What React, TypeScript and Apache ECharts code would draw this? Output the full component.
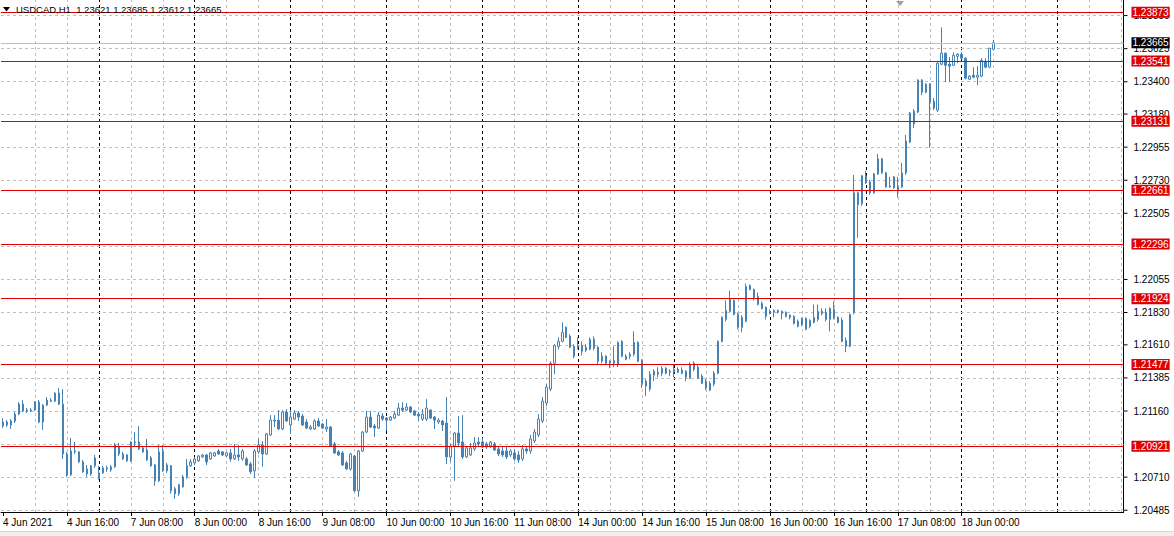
import React, { useEffect, useRef } from 'react';
import * as echarts from 'echarts';

// ---- data (candles: [open, close, low, high]) ----
const symbol = 'USDCAD,H1';
const firstLabel = '4 Jun 2021';
const days = ['4 Jun', '7 Jun', '8 Jun', '9 Jun', '10 Jun', '11 Jun', '14 Jun', '15 Jun', '16 Jun', '17 Jun', '18 Jun', '21 Jun'];

const jun04 = [
  [1.21058, 1.21085, 1.21044, 1.21112], [1.21085, 1.21065, 1.21051, 1.21098], [1.21065, 1.21092, 1.21038, 1.21105],
  [1.21092, 1.21139, 1.21078, 1.21153], [1.21139, 1.21207, 1.21132, 1.21221], [1.21207, 1.2116, 1.21153, 1.21234],
  [1.21166, 1.2116, 1.21146, 1.2118], [1.2116, 1.21166, 1.21153, 1.2118], [1.21166, 1.21221, 1.2116, 1.21227],
  [1.21221, 1.21085, 1.21078, 1.21234], [1.21085, 1.212, 1.21031, 1.21207], [1.212, 1.21234, 1.21193, 1.21255],
  [1.21234, 1.21227, 1.21221, 1.21248], [1.21227, 1.21282, 1.21221, 1.21288], [1.21282, 1.21207, 1.212, 1.21316],
  [1.21207, 1.20868, 1.20834, 1.21309], [1.20868, 1.20726, 1.20712, 1.20882], [1.20726, 1.20888, 1.20719, 1.20977],
  [1.20888, 1.20882, 1.20868, 1.20949], [1.20882, 1.20814, 1.20807, 1.20888], [1.20814, 1.20746, 1.20739, 1.20827],
  [1.20766, 1.20732, 1.20712, 1.20793], [1.20732, 1.20787, 1.20719, 1.20793], [1.20787, 1.20841, 1.20773, 1.20861],
];
const jun07 = [
  [1.20699, 1.20739, 1.20692, 1.20787], [1.20739, 1.20773, 1.20732, 1.20787], [1.20773, 1.20766, 1.20746, 1.20787],
  [1.2076, 1.2078, 1.20746, 1.20793], [1.2078, 1.20929, 1.20773, 1.20943], [1.20922, 1.20868, 1.20854, 1.20943],
  [1.20868, 1.20834, 1.20827, 1.20882], [1.20861, 1.20821, 1.20814, 1.20868], [1.20821, 1.20949, 1.20814, 1.20956],
  [1.20949, 1.20943, 1.20922, 1.21017], [1.20949, 1.20902, 1.20895, 1.21058], [1.20909, 1.20882, 1.20875, 1.20922],
  [1.20895, 1.20827, 1.20821, 1.2097], [1.20841, 1.20787, 1.2078, 1.20854], [1.20793, 1.20685, 1.20651, 1.208],
  [1.20685, 1.20882, 1.20678, 1.20929], [1.20882, 1.20753, 1.20746, 1.20929], [1.20753, 1.20793, 1.20739, 1.20807],
  [1.20787, 1.20617, 1.20597, 1.20793], [1.20631, 1.20597, 1.20563, 1.20644], [1.20597, 1.20658, 1.20583, 1.20665],
  [1.20644, 1.20712, 1.20638, 1.20726], [1.20712, 1.20787, 1.20699, 1.20834], [1.20787, 1.20814, 1.2078, 1.20834],
];
const jun08 = [
  [1.20807, 1.20834, 1.20793, 1.20848], [1.20821, 1.20854, 1.20814, 1.20861], [1.20848, 1.20861, 1.20841, 1.20868],
  [1.20861, 1.20814, 1.20793, 1.20868], [1.20834, 1.20875, 1.20827, 1.20882], [1.20854, 1.20875, 1.20848, 1.20882],
  [1.20888, 1.20868, 1.20861, 1.20902], [1.20882, 1.20861, 1.20854, 1.20888], [1.20854, 1.20875, 1.20848, 1.20882],
  [1.20875, 1.20834, 1.20814, 1.20902], [1.20834, 1.20861, 1.20827, 1.20936], [1.20861, 1.20848, 1.20821, 1.20929],
  [1.20834, 1.20888, 1.20821, 1.20902], [1.20834, 1.20793, 1.20787, 1.20848], [1.208, 1.20746, 1.20732, 1.20814],
  [1.20753, 1.20888, 1.20705, 1.20902], [1.20882, 1.20929, 1.20868, 1.2097], [1.20929, 1.20868, 1.2078, 1.20956],
  [1.20868, 1.21004, 1.20861, 1.2101], [1.20997, 1.21098, 1.2099, 1.21132], [1.21098, 1.21092, 1.21051, 1.21132],
  [1.21098, 1.21038, 1.21031, 1.21166], [1.21038, 1.21153, 1.21031, 1.21166], [1.21153, 1.21092, 1.21085, 1.21173],
];
const jun09 = [
  [1.21065, 1.21119, 1.21004, 1.21166], [1.21105, 1.21146, 1.21098, 1.21166], [1.21146, 1.21119, 1.21092, 1.2116],
  [1.21126, 1.21065, 1.21058, 1.21139], [1.21085, 1.21044, 1.21038, 1.21105], [1.21038, 1.21051, 1.21031, 1.21065],
  [1.21038, 1.21092, 1.21031, 1.21105], [1.21092, 1.21058, 1.21051, 1.21112], [1.21071, 1.21044, 1.21038, 1.21078],
  [1.21038, 1.21051, 1.21017, 1.21105], [1.21051, 1.20922, 1.20915, 1.21058], [1.20936, 1.20875, 1.20868, 1.20949],
  [1.20882, 1.20861, 1.20854, 1.20895], [1.20875, 1.20793, 1.20787, 1.20888], [1.20807, 1.20766, 1.2076, 1.20821],
  [1.20766, 1.20868, 1.20753, 1.20875], [1.20854, 1.20617, 1.2061, 1.20861], [1.20617, 1.20888, 1.20577, 1.20895],
  [1.20888, 1.21017, 1.20882, 1.21024], [1.21017, 1.21119, 1.2101, 1.2116], [1.21119, 1.21051, 1.21044, 1.2116],
  [1.21058, 1.21044, 1.20983, 1.21071], [1.21044, 1.21132, 1.21038, 1.21153], [1.21126, 1.21105, 1.21092, 1.21146],
];
const jun10 = [
  [1.21112, 1.21098, 1.21024, 1.21119], [1.21098, 1.21119, 1.21092, 1.21126], [1.21112, 1.21139, 1.21105, 1.2116],
  [1.21132, 1.2118, 1.21126, 1.21214], [1.2118, 1.21166, 1.21153, 1.21221], [1.21166, 1.21187, 1.2116, 1.21214],
  [1.21187, 1.21153, 1.21146, 1.21193], [1.2116, 1.21132, 1.21126, 1.21166], [1.21139, 1.21126, 1.21092, 1.21153],
  [1.21105, 1.21139, 1.21092, 1.21173], [1.21105, 1.2118, 1.21092, 1.21241], [1.21166, 1.21112, 1.21105, 1.21173],
  [1.21119, 1.21098, 1.21038, 1.21126], [1.21085, 1.21098, 1.21071, 1.21112], [1.21092, 1.21065, 1.21024, 1.21098],
  [1.21078, 1.20848, 1.208, 1.21255], [1.20848, 1.20922, 1.20814, 1.20936], [1.20922, 1.2101, 1.20685, 1.21017],
  [1.2101, 1.20943, 1.20922, 1.21126], [1.20949, 1.20848, 1.20834, 1.21132], [1.20848, 1.20909, 1.20841, 1.20922],
  [1.20861, 1.20909, 1.20854, 1.20943], [1.20902, 1.20943, 1.20888, 1.20983], [1.20949, 1.20936, 1.20915, 1.20983],
];
const jun11 = [
  [1.20949, 1.20915, 1.20909, 1.20977], [1.20936, 1.20915, 1.20902, 1.20949], [1.20922, 1.20949, 1.20909, 1.20956],
  [1.20936, 1.20895, 1.20888, 1.20949], [1.20902, 1.20868, 1.20854, 1.20915], [1.20888, 1.20861, 1.20848, 1.20915],
  [1.20888, 1.20848, 1.20834, 1.20922], [1.20861, 1.20888, 1.20848, 1.20902], [1.20875, 1.20834, 1.20821, 1.20902],
  [1.20861, 1.20827, 1.20807, 1.20888], [1.20834, 1.20902, 1.20821, 1.20929], [1.20902, 1.20888, 1.20868, 1.20922],
  [1.20888, 1.2097, 1.20868, 1.20997], [1.20956, 1.21017, 1.20943, 1.21038], [1.20997, 1.21105, 1.20983, 1.21139],
  [1.21092, 1.21227, 1.21078, 1.21255], [1.21214, 1.21322, 1.21193, 1.21343], [1.21309, 1.21485, 1.21295, 1.21499],
  [1.21485, 1.21607, 1.2141, 1.21614], [1.216, 1.21634, 1.2158, 1.21661], [1.21634, 1.21695, 1.21627, 1.21763],
  [1.21729, 1.21661, 1.21655, 1.21736], [1.21668, 1.21594, 1.21587, 1.21682], [1.216, 1.21533, 1.21519, 1.21614],
];
const jun14 = [
  [1.21607, 1.21594, 1.2158, 1.21661], [1.21607, 1.21566, 1.21539, 1.21634], [1.21573, 1.21594, 1.2156, 1.21614],
  [1.2158, 1.21648, 1.21573, 1.21661], [1.21648, 1.21587, 1.21573, 1.21668], [1.21594, 1.21499, 1.21478, 1.216],
  [1.21499, 1.21533, 1.21485, 1.2156], [1.21533, 1.21485, 1.21478, 1.21539], [1.21499, 1.21485, 1.21451, 1.21505],
  [1.21485, 1.21505, 1.21458, 1.216], [1.21478, 1.21627, 1.21458, 1.21634], [1.21634, 1.21533, 1.21526, 1.21641],
  [1.21533, 1.21512, 1.21505, 1.21546], [1.21533, 1.21546, 1.21512, 1.2156], [1.21546, 1.21627, 1.21533, 1.21702],
  [1.21627, 1.21499, 1.21492, 1.21634], [1.21505, 1.21349, 1.21316, 1.21512], [1.21363, 1.21329, 1.21261, 1.21377],
  [1.21309, 1.2141, 1.21295, 1.21431], [1.21404, 1.21431, 1.21363, 1.21444], [1.2141, 1.21424, 1.2139, 1.21458],
  [1.21417, 1.21451, 1.21397, 1.21465], [1.21451, 1.21417, 1.2141, 1.21458], [1.21431, 1.21424, 1.21397, 1.21444],
];
const jun15 = [
  [1.21424, 1.21444, 1.2139, 1.21478], [1.21444, 1.21424, 1.21417, 1.21458], [1.21438, 1.21417, 1.2141, 1.21458],
  [1.21431, 1.2139, 1.21363, 1.21438], [1.21383, 1.21478, 1.21377, 1.21492], [1.21485, 1.21444, 1.21431, 1.21499],
  [1.21458, 1.21383, 1.21377, 1.21472], [1.21397, 1.21349, 1.21343, 1.2141], [1.21363, 1.21316, 1.21302, 1.21377],
  [1.21302, 1.21349, 1.21295, 1.21363], [1.21343, 1.21417, 1.21329, 1.21431], [1.21417, 1.21634, 1.2141, 1.21641],
  [1.21634, 1.21797, 1.21627, 1.21804], [1.21783, 1.21844, 1.2177, 1.21912], [1.21838, 1.21926, 1.21831, 1.2198],
  [1.21912, 1.21817, 1.21811, 1.21919], [1.21817, 1.21729, 1.21716, 1.21831], [1.21729, 1.21797, 1.21695, 1.21811],
  [1.2177, 1.22007, 1.21763, 1.22027], [1.22014, 1.21987, 1.2198, 1.22021], [1.21987, 1.21933, 1.21912, 1.21994],
  [1.21939, 1.21885, 1.21878, 1.21966], [1.21892, 1.21858, 1.21851, 1.21905], [1.21865, 1.21804, 1.21783, 1.21872],
];
const jun16 = [
  [1.21824, 1.21838, 1.21817, 1.21851], [1.21831, 1.21844, 1.21797, 1.21851], [1.21844, 1.21831, 1.21824, 1.21851],
  [1.21838, 1.21824, 1.21783, 1.21844], [1.21831, 1.21804, 1.21797, 1.21838], [1.21811, 1.21797, 1.21783, 1.21817],
  [1.21804, 1.21756, 1.21749, 1.21811], [1.2177, 1.21736, 1.21729, 1.21783], [1.21749, 1.2179, 1.21736, 1.21797],
  [1.2179, 1.21716, 1.21709, 1.21797], [1.21736, 1.21777, 1.21722, 1.21783], [1.21763, 1.21797, 1.21756, 1.21885],
  [1.21783, 1.21838, 1.2177, 1.21885], [1.21838, 1.21824, 1.21811, 1.21858], [1.21831, 1.21783, 1.2177, 1.21858],
  [1.21783, 1.21858, 1.21702, 1.21865], [1.21851, 1.21797, 1.21783, 1.21905], [1.21797, 1.21763, 1.21756, 1.21804],
  [1.21777, 1.21634, 1.21627, 1.21797], [1.21641, 1.216, 1.2156, 1.21661], [1.216, 1.21817, 1.21594, 1.21824],
  [1.21831, 1.22644, 1.21817, 1.22766], [1.22644, 1.22563, 1.22339, 1.22651], [1.2257, 1.2276, 1.22556, 1.22766],
];
const jun17 = [
  [1.2276, 1.22712, 1.22705, 1.22794], [1.22719, 1.22644, 1.22631, 1.22733], [1.22644, 1.22773, 1.22638, 1.2278],
  [1.22773, 1.22875, 1.22766, 1.22909], [1.22875, 1.2278, 1.22773, 1.22882], [1.2278, 1.22685, 1.22678, 1.22787],
  [1.22692, 1.22685, 1.22678, 1.22753], [1.22753, 1.22678, 1.22672, 1.2276], [1.22685, 1.22665, 1.22611, 1.22753],
  [1.22685, 1.2278, 1.22678, 1.22848], [1.2278, 1.22997, 1.22766, 1.23038], [1.2299, 1.23187, 1.22983, 1.23194],
  [1.23112, 1.232, 1.23085, 1.23214], [1.23194, 1.23411, 1.23187, 1.23417], [1.23411, 1.23329, 1.23309, 1.23417],
  [1.23329, 1.23383, 1.23322, 1.2339], [1.23383, 1.23261, 1.2295, 1.2339], [1.23268, 1.23221, 1.23207, 1.23289],
  [1.23207, 1.23526, 1.23194, 1.23533], [1.23519, 1.23594, 1.23512, 1.2377], [1.23594, 1.23512, 1.23397, 1.236],
  [1.23519, 1.23506, 1.23397, 1.23567], [1.23512, 1.2358, 1.23506, 1.236], [1.23573, 1.23587, 1.23526, 1.23594],
];
const jun18 = [
  [1.23587, 1.2356, 1.23553, 1.236], [1.2356, 1.23424, 1.23417, 1.23567], [1.23417, 1.23438, 1.23411, 1.23444],
  [1.23444, 1.23431, 1.23424, 1.23499], [1.23431, 1.23444, 1.23377, 1.23506], [1.23438, 1.23546, 1.23431, 1.2356],
  [1.23539, 1.23499, 1.23492, 1.2356], [1.23499, 1.23628, 1.23492, 1.23628], [1.23621, 1.23665, 1.23612, 1.23685],
];

const priceGrid = [1.20485, 1.2071, 1.20935, 1.2116, 1.21385, 1.2161, 1.2183, 1.22055, 1.2228, 1.22505, 1.2273, 1.22955, 1.2318, 1.234, 1.23625, 1.2385];
const redLevels = [1.23873, 1.23541, 1.23131, 1.22661, 1.22296, 1.21924, 1.21477, 1.20921];
const yMin = 1.20473;
const yMax = 1.23956;

// ---- layout / style ----
const SLOTS = 281;
const FONT = '"Liberation Sans", Arial, sans-serif';
const CANDLE = '#4682B4';
const RED = '#E00000';
const GRID_GRAY = '#C0C0C0';

const candles = [...jun04, ...jun07, ...jun08, ...jun09, ...jun10, ...jun11, ...jun14, ...jun15, ...jun16, ...jun17, ...jun18];
const categories = Array.from({ length: SLOTS }, (_, i) =>
  `${days[Math.floor(i / 24)]} ${String(i % 24).padStart(2, '0')}:00`);
const lastLabelIdx = Math.floor((candles.length - 1) / 16) * 16;
const showLabel = (i: number) => i % 16 === 0 && i <= lastLabelIdx;
const last = candles[candles.length - 1];
const bid = last[1];
// grid labels that sit fully under a level box are not drawn (as on the terminal)
const coveredByBox = (p: number) => redLevels.some((r) => Math.abs(r - p) < 0.0002);

function buildOption() {
  const vLines = categories
    .map((c, i) => ({ c, i }))
    .filter(({ i }) => i > 0 && i % 8 === 0)
    .map(({ c, i }) => ({
      xAxis: c,
      lineStyle: { color: i % 24 === 0 ? '#000000' : GRID_GRAY, type: [3, 3], width: 1 },
      label: { show: false },
    }));
  const hLines = priceGrid.map((p) => ({
    yAxis: p,
    lineStyle: { color: GRID_GRAY, type: [3, 3], width: 1 },
    label: {
      show: !coveredByBox(p),
      position: 'end',
      distance: 0,
      formatter: `{t|}{v|${p.toFixed(5)}}`,
      rich: {
        t: { width: 4, height: 1, backgroundColor: '#000', verticalAlign: 'middle' },
        v: { fontSize: 10, fontFamily: FONT, color: '#000', padding: [0, 0, 0, 6], verticalAlign: 'middle' },
      },
    },
  }));
  const levelLines = redLevels.map((p) => ({
    yAxis: p,
    lineStyle: { color: RED, type: 'solid', width: 1 },
    label: {
      show: true, position: 'end', distance: 8, formatter: p.toFixed(5),
      color: '#fff', backgroundColor: RED, padding: [1, 1, 0, 1], fontSize: 10, fontFamily: FONT, lineHeight: 10,
    },
  }));
  const bidLine = [{
    yAxis: bid,
    lineStyle: { color: GRID_GRAY, type: 'solid', width: 1 },
    label: {
      show: true, position: 'end', distance: 8, formatter: bid.toFixed(5),
      color: '#fff', backgroundColor: '#000', padding: [1, 1, 0, 1], fontSize: 10, fontFamily: FONT, lineHeight: 10,
    },
  }];

  return {
    animation: false,
    backgroundColor: '#ffffff',
    textStyle: { fontFamily: FONT },
    grid: { left: -0.5, right: 50.5, top: 0, bottom: 24, containLabel: false },
    xAxis: {
      type: 'category',
      data: categories,
      boundaryGap: true,
      axisLine: { show: true, onZero: false, lineStyle: { color: '#000', width: 1 } },
      axisTick: { show: true, alignWithLabel: true, length: 4, interval: (i: number) => showLabel(i), lineStyle: { color: '#000' } },
      axisLabel: {
        show: true,
        interval: (i: number) => showLabel(i),
        formatter: (v: string, i: number) => (i === 0 ? firstLabel : v),
        align: 'left',
        margin: 5,
        color: '#000',
        fontSize: 10,
        fontFamily: FONT,
      },
      splitLine: { show: false },
    },
    yAxis: {
      type: 'value',
      position: 'right',
      min: yMin,
      max: yMax,
      axisLine: { show: true, onZero: false, lineStyle: { color: '#000', width: 1 } },
      axisTick: { show: false },
      axisLabel: { show: false },
      splitLine: { show: false },
    },
    series: [
      {
        name: 'grid',
        type: 'line',
        data: [],
        z: 1,
        silent: true,
        markLine: { silent: true, z: 1, precision: 5, symbol: ['none', 'none'], animation: false, data: [...vLines, ...hLines] },
      },
      {
        name: symbol,
        type: 'candlestick',
        data: candles,
        barWidth: 2,
        z: 3,
        itemStyle: { color: '#ffffff', color0: CANDLE, borderColor: CANDLE, borderColor0: CANDLE, borderWidth: 1 },
      },
      {
        name: 'levels',
        type: 'line',
        data: [],
        z: 6,
        silent: true,
        markLine: { silent: true, z: 6, precision: 5, symbol: ['none', 'none'], animation: false, data: [...bidLine, ...levelLines] },
      },
    ],
    graphic: [
      { type: 'polygon', z: 100, shape: { points: [[3, 7], [10, 7], [6.5, 11.5]] }, style: { fill: '#000' } },
      {
        type: 'text', z: 100, x: 16, y: 9,
        style: {
          text: `${symbol}  ${last[0].toFixed(5)} ${last[3].toFixed(5)} ${last[2].toFixed(5)} ${last[1].toFixed(5)}`,
          fill: '#000', font: `9.5px ${FONT}`, verticalAlign: 'middle',
        },
      },
      { type: 'polygon', z: 100, shape: { points: [[896, 1], [904, 1], [900, 6]] }, style: { fill: '#A0A0A0' } },
      { type: 'rect', z: 100, shape: { x: 0, y: 532, width: 1174, height: 4 }, style: { fill: '#F0F0F0' } },
      { type: 'line', z: 100, shape: { x1: 0, y1: 531.5, x2: 1174, y2: 531.5 }, style: { stroke: '#D8D8D8', lineWidth: 1 } },
    ],
  };
}

export default function App() {
  const ref = useRef<HTMLDivElement>(null);
  useEffect(() => {
    document.body.style.margin = '0';
    const chart = echarts.init(ref.current as HTMLDivElement, undefined, { renderer: 'svg' });
    chart.setOption(buildOption() as any);
    return () => chart.dispose();
  }, []);
  return <div ref={ref} style={{ width: 1174, height: 536 }} />;
}
